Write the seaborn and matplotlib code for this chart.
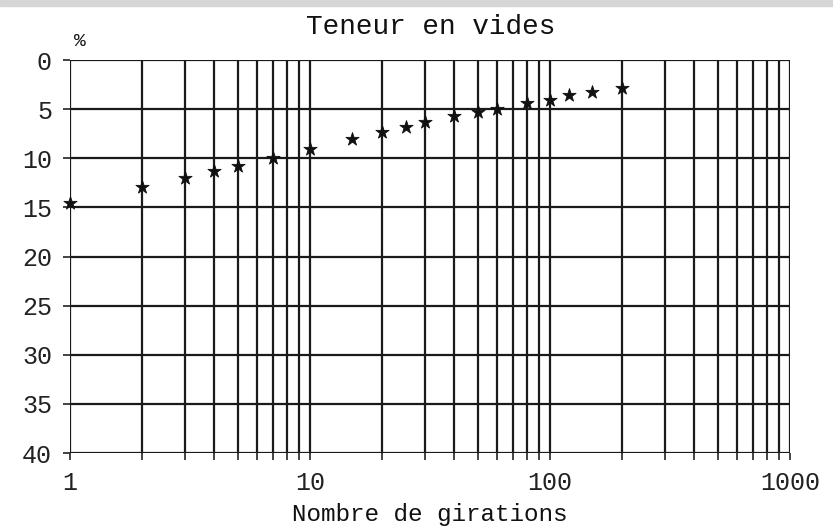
import matplotlib
matplotlib.use("Agg")
import matplotlib.pyplot as plt
import matplotlib.patches as mpatches
import pandas as pd
import seaborn as sns

# Nombre de girations vs teneur en vides (%)
girations = [1, 2, 3, 4, 5, 7, 10, 15, 20, 25, 30, 40, 50, 60, 80, 100, 120, 150, 200]
vides = [14.55, 12.9, 12.0, 11.3, 10.8, 10.0, 9.1, 8.0, 7.3, 6.8, 6.3, 5.75, 5.3, 5.0, 4.4, 4.05, 3.6, 3.25, 2.9]
y_ticks = [0, 5, 10, 15, 20, 25, 30, 35, 40]
x_ticks = [1, 10, 100, 1000]

df = pd.DataFrame({"girations": girations, "vides": vides})

sns.set_style("white")
plt.rcParams["font.family"] = ["Liberation Mono", "DejaVu Sans Mono"]

fig = plt.figure(figsize=(8.33, 5.28), dpi=100)
ax = fig.add_axes([70 / 833, 1 - 453 / 528, 720 / 833, 393 / 528])

# bande grise du scan en haut
fig.patches.append(mpatches.Rectangle((0, 1 - 6 / 528), 1, 6 / 528,
                                      transform=fig.transFigure, color="#d6d6d6", zorder=0))

sns.scatterplot(data=df, x="girations", y="vides", marker="*", s=100,
                color="#111111", edgecolor="#111111", linewidth=0.6, ax=ax,
                zorder=5, clip_on=False)

ax.set_xscale("log")
ax.set_xlim(1, 1000)
ax.set_ylim(40, 0)
ax.set_yticks(y_ticks)
ax.set_yticklabels([str(v) for v in y_ticks])
ax.set_xticks(x_ticks)
ax.set_xticklabels([str(v) for v in x_ticks])

ax.grid(True, which="both", axis="x", color="#1a1a1a", linewidth=1.6)
ax.grid(True, which="major", axis="y", color="#1a1a1a", linewidth=1.6)
ax.tick_params(axis="both", which="both", labelsize=18, colors="#222222",
               length=5, width=1.2, direction="out", bottom=True, left=True)
ax.tick_params(axis="x", which="minor", length=5, width=1.2)
ax.tick_params(axis="x", pad=8)
ax.tick_params(axis="y", pad=8)
for s in ax.spines.values():
    s.set_visible(False)

ax.set_xlabel("Nombre de girations", fontsize=17.5, color="#111111", labelpad=6)
ax.set_ylabel("")
fig.text(431 / 833, 1 - 27 / 528, "Teneur en vides", fontsize=20, ha="center",
         va="center", color="#111111")
fig.text(80 / 833, 1 - 42 / 528, "%", fontsize=14, ha="center", va="center", color="#111111")

fig.savefig("out.png", dpi=100, facecolor="white")
